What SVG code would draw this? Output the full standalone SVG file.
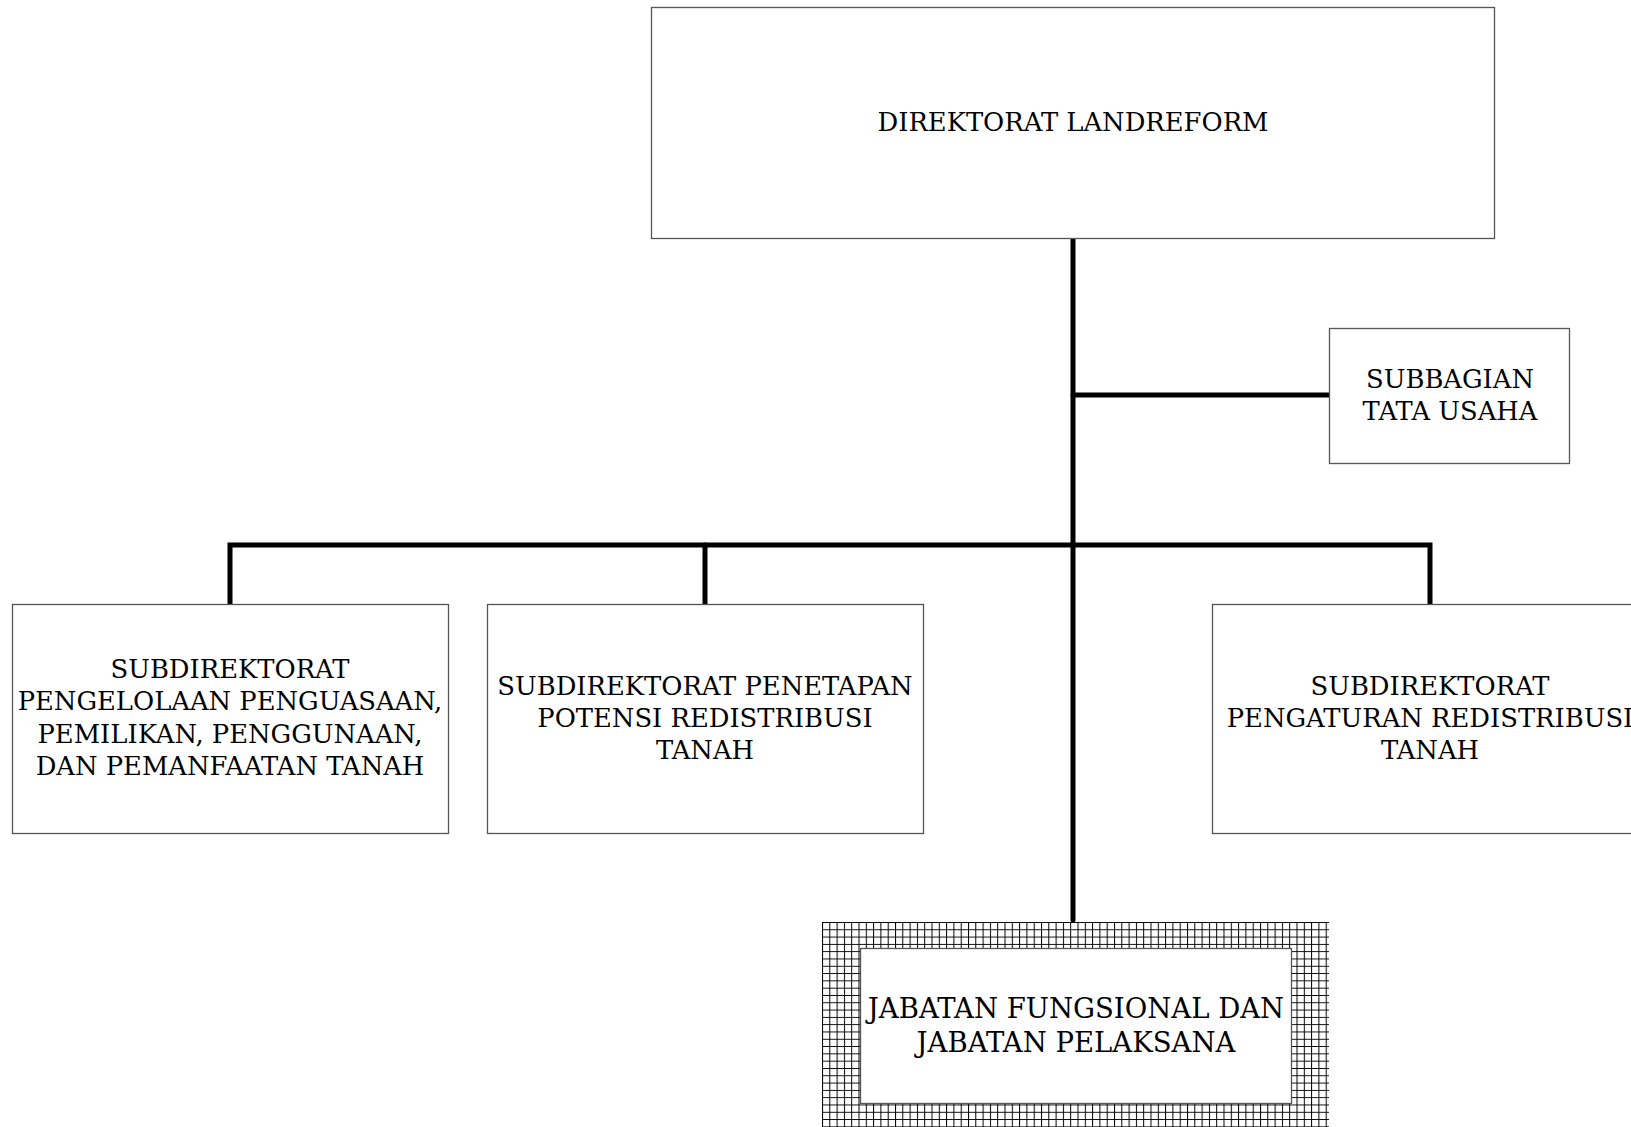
<svg xmlns="http://www.w3.org/2000/svg" width="1631" height="1127" viewBox="0 0 1631 1127">
  <style>
    .box { fill: #ffffff; stroke: #555555; stroke-width: 1.3; }
    .lbl { font-family: "DejaVu Serif", "Liberation Serif", serif; font-size: 25.8px; fill: #000000; text-anchor: middle; }
    .lbl-big { font-size: 27.5px; }
    .wire { fill: none; stroke: #000000; stroke-width: 5; stroke-linecap: round; stroke-linejoin: miter; }
  </style>
  <defs>
    <pattern id="grid" patternUnits="userSpaceOnUse" x="822" y="922" width="7.3" height="7.3">
      <path d="M0.5 0 V7.3 M0 0.5 H7.3" stroke="#000000" stroke-width="1" fill="none"/>
    </pattern>
  </defs>
  <rect x="0" y="0" width="1631" height="1127" fill="#ffffff"/>

  <!-- connectors -->
  <g id="connectors">
    <path class="wire" d="M1073 238 V920"/>
    <path class="wire" d="M1073 395 H1329"/>
    <path class="wire" d="M230 604 V545 H1430 V604"/>
    <path class="wire" d="M705 545 V604"/>
  </g>

  <g id="node-direktorat">
    <rect class="box" x="651.5" y="7.5" width="843" height="231"/>
    <text class="lbl" x="1073" y="131">DIREKTORAT LANDREFORM</text>
  </g>

  <g id="node-subbagian">
    <rect class="box" x="1329.5" y="328.5" width="240" height="135"/>
    <text class="lbl" x="1450" y="388">SUBBAGIAN</text>
    <text class="lbl" x="1450" y="420">TATA USAHA</text>
  </g>

  <g id="node-subdit-pengelolaan">
    <rect class="box" x="12.5" y="604.5" width="436" height="229"/>
    <text class="lbl" x="230" y="678">SUBDIREKTORAT</text>
    <text class="lbl" x="230" y="710">PENGELOLAAN PENGUASAAN,</text>
    <text class="lbl" x="230" y="743">PEMILIKAN, PENGGUNAAN,</text>
    <text class="lbl" x="230" y="775">DAN PEMANFAATAN TANAH</text>
  </g>

  <g id="node-subdit-penetapan">
    <rect class="box" x="487.5" y="604.5" width="436" height="229"/>
    <text class="lbl" x="705" y="695">SUBDIREKTORAT PENETAPAN</text>
    <text class="lbl" x="705" y="727">POTENSI REDISTRIBUSI</text>
    <text class="lbl" x="705" y="759">TANAH</text>
  </g>

  <g id="node-subdit-pengaturan">
    <rect class="box" x="1212.5" y="604.5" width="436" height="229"/>
    <text class="lbl" x="1430" y="695">SUBDIREKTORAT</text>
    <text class="lbl" x="1430" y="727">PENGATURAN REDISTRIBUSI</text>
    <text class="lbl" x="1430" y="759">TANAH</text>
  </g>

  <g id="node-jabatan">
    <rect x="822" y="922" width="507" height="210" fill="url(#grid)"/>
    <rect class="box" x="860.5" y="948.5" width="431" height="155"/>
    <text class="lbl lbl-big" x="1076" y="1018">JABATAN FUNGSIONAL DAN</text>
    <text class="lbl lbl-big" x="1076" y="1052">JABATAN PELAKSANA</text>
  </g>
</svg>
